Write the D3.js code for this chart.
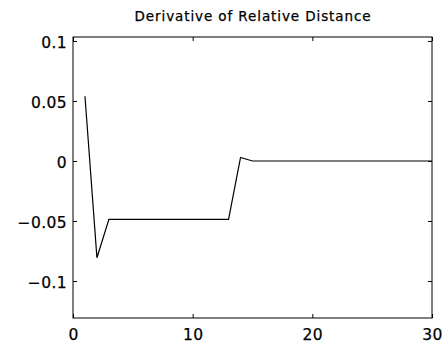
<!DOCTYPE html>
<html>
<head>
<meta charset="utf-8">
<script src="https://cdn.jsdelivr.net/npm/d3@7"></script>
<style>
  body { margin: 0; background: #fff; }
  svg text { font-family: "DejaVu Sans", sans-serif; fill: #000; stroke: #000; stroke-width: 0.25px; }
</style>
</head>
<body>
<div id="chart"></div>
<script>
// data
var xValues = [1, 2, 3, 4, 5, 6, 7, 8, 9, 10, 11, 12, 13, 14, 15, 16, 17, 18, 19, 20,
               21, 22, 23, 24, 25, 26, 27, 28, 29, 30];
var yValues = [0.054, -0.0806, -0.0486, -0.0486, -0.0486, -0.0486, -0.0486, -0.0486, -0.0486, -0.0486,
               -0.0486, -0.0486, -0.0486, 0.003, 0, 0, 0, 0, 0, 0,
               0, 0, 0, 0, 0, 0, 0, 0, 0, 0];
var xTicks = [0, 10, 20, 30];
var yTicks = [-0.1, -0.05, 0, 0.05, 0.1];
var titleText = "Derivative of Relative Distance";

var W = 447, H = 344;
var m = {left: 73, right: 15, top: 37, bottom: 26};
var w = W - m.left - m.right, h = H - m.top - m.bottom;

var svg = d3.select("#chart").append("svg").attr("width", W).attr("height", H);
var g = svg.append("g").attr("transform", "translate(" + m.left + "," + m.top + ")");

var x = d3.scaleLinear().domain([0, 30]).range([0, w]);
var y = d3.scaleLinear().domain([-0.1308, 0.1033]).range([h, 0]);

var fmt = function(d){ return d === 0 ? "0" : (d < 0 ? "\u2212" : "") + String(Math.abs(d)); };

//box
g.append("rect").attr("width", w).attr("height", h)
  .attr("fill", "none").attr("stroke", "#000").attr("stroke-width", 1);

//inward ticks on all four sides, labels only left/bottom
var tl = 4;
g.append("g").attr("transform", "translate(0," + h + ")")
  .call(d3.axisBottom(x).tickValues(xTicks).tickSize(-tl).tickPadding(10.5).tickFormat(fmt))
  .call(function(s){ s.select(".domain").remove(); });
g.append("g")
  .call(d3.axisTop(x).tickValues(xTicks).tickSize(-tl).tickFormat(""))
  .call(function(s){ s.select(".domain").remove(); });
g.append("g")
  .call(d3.axisLeft(y).tickValues(yTicks).tickSize(-tl).tickPadding(6).tickFormat(fmt))
  .call(function(s){ s.select(".domain").remove(); s.selectAll("text").attr("dy", "0.42em"); });
g.append("g").attr("transform", "translate(" + w + ",0)")
  .call(d3.axisRight(y).tickValues(yTicks).tickSize(-tl).tickFormat(""))
  .call(function(s){ s.select(".domain").remove(); });
g.selectAll(".tick line").attr("stroke", "#000");
g.selectAll(".tick text").attr("font-size", 15.5).attr("letter-spacing", 0.4)
  .attr("font-family", "'DejaVu Sans', sans-serif");

//the line
var line = d3.line().x(function(d, i){ return x(xValues[i]); }).y(function(d){ return y(d); });
g.append("path").datum(yValues).attr("d", line)
  .attr("fill", "none").attr("stroke", "#000").attr("stroke-width", 1.2);

//title
svg.append("text").attr("x", m.left + w / 2 + 0.5).attr("y", 20.7)
  .attr("text-anchor", "middle").attr("font-size", 13.5).attr("letter-spacing", 0.9)
  .text(titleText);
</script>
</body>
</html>
